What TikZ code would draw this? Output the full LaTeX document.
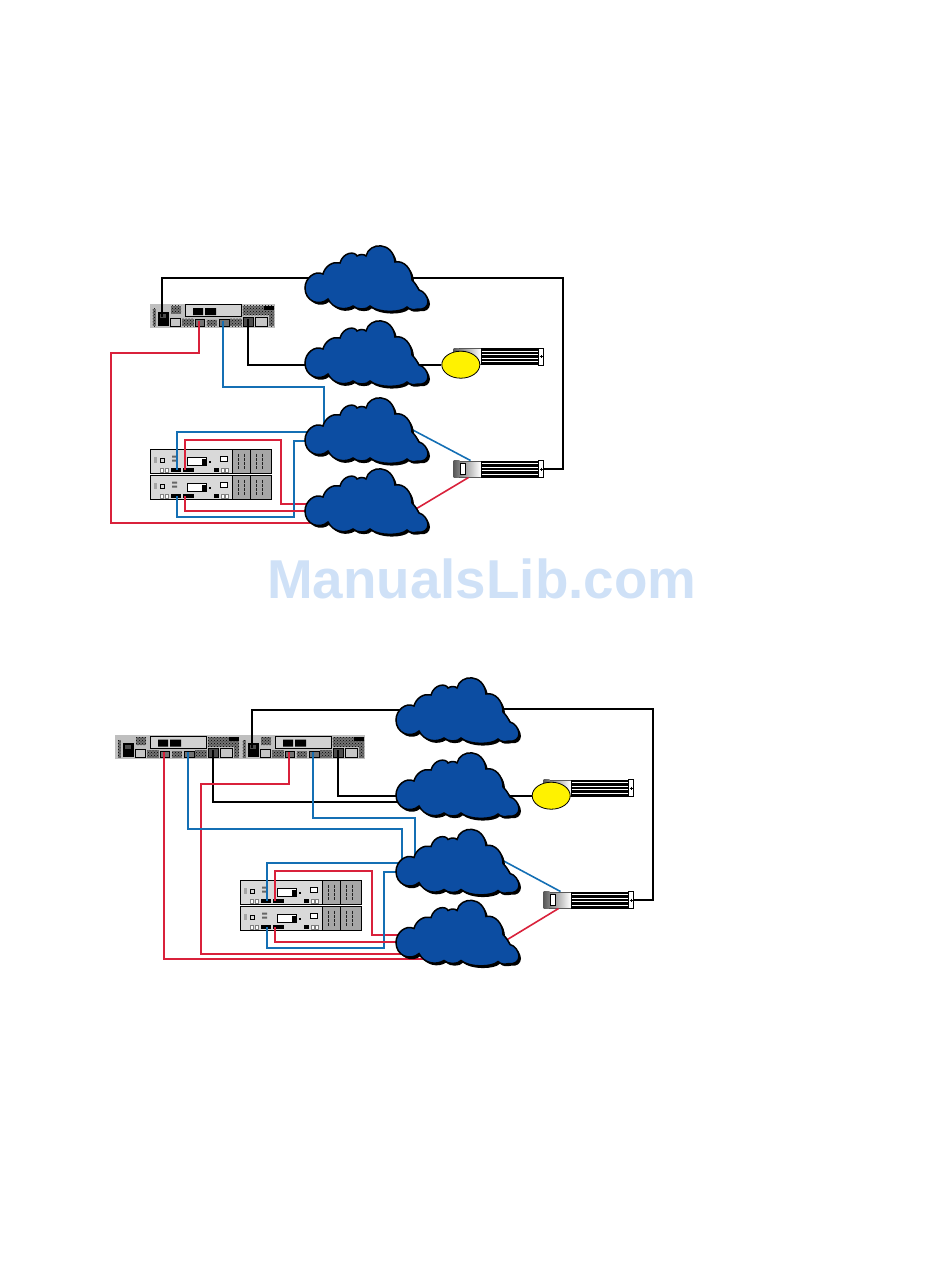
\documentclass[tikz,border=0pt]{standalone}
\usepackage{fontspec}
\setmainfont{Liberation Sans}
\usetikzlibrary{patterns,shapes.geometric}
\definecolor{cloudblue}{HTML}{0C4DA2}
\definecolor{wirered}{HTML}{D9213B}
\definecolor{wireblue}{HTML}{146FB4}
\definecolor{markblue}{HTML}{CFE1F7}
\newcommand{\cloudoutline}{(23,54) .. controls (14,62) and (0,56) .. (0,43)
  .. controls (0,33) and (10,25) .. (18,29)
  .. controls (20,21) and (28,16) .. (35,18)
  .. controls (38,7) and (50,6) .. (52,11)
  .. controls (55,9) and (59,9) .. (61,11)
  .. controls (64,-3) and (88,-4) .. (90,17)
  .. controls (99,15) and (107,24) .. (107,35)
  .. controls (110,38) and (112,41) .. (114,45)
  .. controls (119,46) and (123,52) .. (123,57)
  .. controls (123,62) and (118,65) .. (113,64)
  .. controls (109,65) and (105,65) .. (102,62)
  .. controls (96,68) and (73,68) .. (65,61)
  .. controls (62,65) and (52,65) .. (48,61)
  .. controls (40,66) and (28,64) .. (23,54) -- cycle}
\tikzset{
  wire/.style={line width=2pt},
  blackwire/.style={wire,draw=black},
  redwire/.style={wire,draw=wirered},
  bluewire/.style={wire,draw=wireblue},
  slant/.style={line width=1.6pt},
  vent/.style={preaction={fill=black!55},pattern=crosshatch dots,pattern color=black},
  port/.style={draw=black,line width=0.9pt,fill=black!55},
  disk/.style={ellipse,draw=black,line width=0.8pt,fill=yellow,minimum width=38pt,minimum height=27pt,inner sep=0pt},
  pics/netcloud/.style={code={
    \fill[black,shift={(2,2.2)}] \cloudoutline;
    \draw[black,line width=1.5pt,fill=cloudblue] \cloudoutline;
  }},
  pics/server/.style={code={
    \fill[gray!50] (0,0) rectangle (125,24);
    \fill[vent] (2.5,5) rectangle (5.5,22.5);
    \fill[black] (7.5,8) rectangle (19,22);
    \fill[gray!60!black] (10,10) rectangle (16,14);
    \draw[port,fill=gray!45] (20.5,14.5) rectangle (30,22.5);
    \fill[vent] (21,2) rectangle (31,10);
    \draw[black,line width=0.9pt,fill=gray!35] (35,1) rectangle (91.5,13);
    \fill[black] (43,4.5) rectangle (53,11.5) (55,4.5) rectangle (66,11.5);
    \fill[vent] (32,15) rectangle (43.5,22.5);
    \fill[vent] (56.5,16) rectangle (67,22.5);
    \fill[vent] (80,15) rectangle (91.5,22.5);
    \draw[port] (45,16) rectangle (54,22.5);
    \draw[port] (69,16) rectangle (79,22.5);
    \fill[vent] (92.5,2) rectangle (124,11.5);
    \fill[black] (114,2) rectangle (124,6);
    \draw[port,fill=black!70] (93.5,13.5) rectangle (103.5,22.5);
    \draw[port,fill=gray!45] (105.5,13.5) rectangle (117,22.5);
    \fill[vent] (119,11) rectangle (124,22.5);
    \coordinate (-lan) at (11.7,13);
    \coordinate (-fca) at (49,17);
    \coordinate (-fcb) at (73,17);
    \coordinate (-mgt) at (97.7,15);
  }},
  pics/controller/.style={code={
    \fill[gray!30] (0,0) rectangle (82,24);
    \fill[gray!70] (82,0) rectangle (121,24);
    \draw[black,line width=0.9pt] (0,0) rectangle (121,24);
    \draw[black,line width=0.7pt] (82,0) -- (82,24) (100,0) -- (100,24);
    \foreach \dx in {88,94,106,112}
      \draw[gray!25!black,line width=0.8pt,dash pattern=on 3pt off 1pt] (\dx,4) -- (\dx,20);
    \fill[gray!70] (3.5,7) rectangle (6.5,13);
    \draw[black,line width=0.5pt] (10,9) rectangle (14,12.5);
    \fill[gray!80!black] (22,6) rectangle (27,8) (22,10) rectangle (27,12);
    \draw[black,line width=0.8pt,fill=white] (37,8) rectangle (56,16);
    \fill[black] (52,9) rectangle (56,15);
    \fill[black] (58.5,11) rectangle (61,13.5);
    \draw[black,line width=0.6pt,fill=white] (70,7) rectangle (77,11.5);
    \foreach \dx in {10,15}
      \draw[gray,line width=0.5pt,fill=white] (\dx,18.5) rectangle ++(3.7,4);
    \fill[black] (21,18.5) rectangle (31,22.5);
    \fill[black] (32.5,18.5) rectangle (43.5,22.5);
    \fill[black] (64,18.5) rectangle (69,22.5);
    \foreach \dx in {71,75}
      \draw[gray,line width=0.5pt,fill=white] (\dx,18.5) rectangle ++(3.2,4);
    \coordinate (-blue) at (27.3,20);
    \coordinate (-red) at (34.8,20);
  }},
  pics/stack/.style={code={
    \fill[black] (27,0) rectangle (88,17);
    \foreach \dy in {3.3,6.8,10.2,13.6}
      \draw[white,line width=0.8pt] (28,\dy) -- (85,\dy);
    \fill[left color=gray,right color=white] (6,0.5) rectangle (27,16.5);
    \draw[gray!70!black,line width=0.6pt] (6,0.3) -- (27,0.3) (6,16.7) -- (27,16.7);
    \fill[left color=black!65,right color=gray] (0,0) rectangle (6,17);
    \draw[black,line width=0.8pt,fill=white] (6.8,3) rectangle (11.5,13.5);
    \draw[black,line width=0.8pt,fill=white] (85,0) rectangle (90,17);
    \draw[black,line width=0.8pt] (86,8.5) -- (89,8.5) (87.5,7) -- (87.5,10);
    \coordinate (-top) at (17,0);
    \coordinate (-bot) at (15,17);
    \coordinate (-end) at (90,8.5);
  }},
}
\begin{document}
\begin{tikzpicture}[x=1pt,y=-1pt]
\useasboundingbox (0,0) rectangle (950,1267);
\node[text=markblue,font=\bfseries\fontsize{54.8}{60}\selectfont,anchor=base] (mark) at (481.7,598) {ManualsLib.com};

% upper setup
\pic (srvA) at (150,303.5) {server};
\pic (ctlA) at (150,449.5) {controller};
\pic (ctlB) at (150,475.5) {controller};
\pic (stkA) at (453.5,348) {stack};
\pic (stkB) at (453.5,460.5) {stack};
\node[disk] (diskA) at (460.8,364.7) {};
\coordinate (cAl) at (330,278);
\coordinate (cAr) at (400,278);
\coordinate (cBl) at (330,365);
\coordinate (cBr) at (400,364.7);
\coordinate (cCa) at (330,431.7);
\coordinate (cCb) at (330,440.7);
\coordinate (cCt) at (324,430);
\coordinate (cCs) at (410,428.5);
\coordinate (cDa) at (330,504);
\coordinate (cDb) at (330,510.7);
\coordinate (cDc) at (330,522.7);
\coordinate (cDs) at (410,512.5);
\draw[blackwire] (srvA-lan) |- (cAl);
\draw[blackwire] (cAr) -| (562.7,469) -- (stkB-end);
\draw[blackwire] (srvA-mgt) |- (cBl);
\draw[blackwire] (cBr) -- (diskA);
\draw[redwire] (srvA-fca) |- (111,352.7) |- (cDc);
\draw[bluewire] (srvA-fcb) |- (324,386.7) -- (cCt);
\draw[bluewire] (ctlA-blue) |- (cCa);
\draw[redwire] (ctlA-red) |- (281,440) |- (cDa);
\draw[bluewire] (cCb) -| (294,516.7) -| (ctlB-blue);
\draw[redwire] (cDb) -| (ctlB-red);
\draw[bluewire,slant] (cCs) -- (stkB-top);
\draw[redwire,slant] (cDs) -- (stkB-bot);
\pic (cloudA) at (305,245) {netcloud};
\pic (cloudB) at (305,320) {netcloud};
\pic (cloudC) at (305,397) {netcloud};
\pic (cloudD) at (305,468) {netcloud};

% lower setup
\pic (srvB) at (115,735) {server};
\pic (srvC) at (240,735) {server};
\pic (ctlC) at (240,880.5) {controller};
\pic (ctlD) at (240,906.5) {controller};
\pic (stkC) at (543.5,779.5) {stack};
\pic (stkD) at (543.5,891.5) {stack};
\node[disk] (diskB) at (551.2,795.7) {};
\coordinate (cEl) at (420,710);
\coordinate (cEr) at (490,709);
\coordinate (cFa) at (420,796);
\coordinate (cFb) at (420,801.7);
\coordinate (cFr) at (490,795.7);
\coordinate (cGa) at (420,863);
\coordinate (cGb) at (420,871.7);
\coordinate (cGs) at (402.3,860);
\coordinate (cGt) at (415,860);
\coordinate (cGo) at (500,859);
\coordinate (cHa) at (420,935);
\coordinate (cHb) at (420,941.7);
\coordinate (cHc) at (420,954);
\coordinate (cHd) at (425,958.7);
\coordinate (cHo) at (500,944);
\draw[blackwire] (srvC-lan) |- (cEl);
\draw[blackwire] (cEr) -| (653,900) -- (stkD-end);
\draw[blackwire] (srvC-mgt) |- (cFa);
\draw[blackwire] (srvB-mgt) |- (cFb);
\draw[blackwire] (cFr) -- (diskB);
\draw[redwire] (srvB-fca) |- (cHd);
\draw[redwire] (srvC-fca) |- (201,784) |- (cHc);
\draw[bluewire] (srvB-fcb) |- (402.3,829) -- (cGs);
\draw[bluewire] (srvC-fcb) |- (415,817.7) -- (cGt);
\draw[bluewire] (ctlC-blue) |- (cGa);
\draw[redwire] (ctlC-red) |- (372.3,871) |- (cHa);
\draw[bluewire] (cGb) -| (384.3,947.7) -| (ctlD-blue);
\draw[redwire] (cHb) -| (ctlD-red);
\draw[bluewire,slant] (cGo) -- (stkD-top);
\draw[redwire,slant] (cHo) -- (stkD-bot);
\pic (cloudE) at (396,677) {netcloud};
\pic (cloudF) at (396,752) {netcloud};
\pic (cloudG) at (396,828.5) {netcloud};
\pic (cloudH) at (396,899.5) {netcloud};
\end{tikzpicture}
\end{document}
